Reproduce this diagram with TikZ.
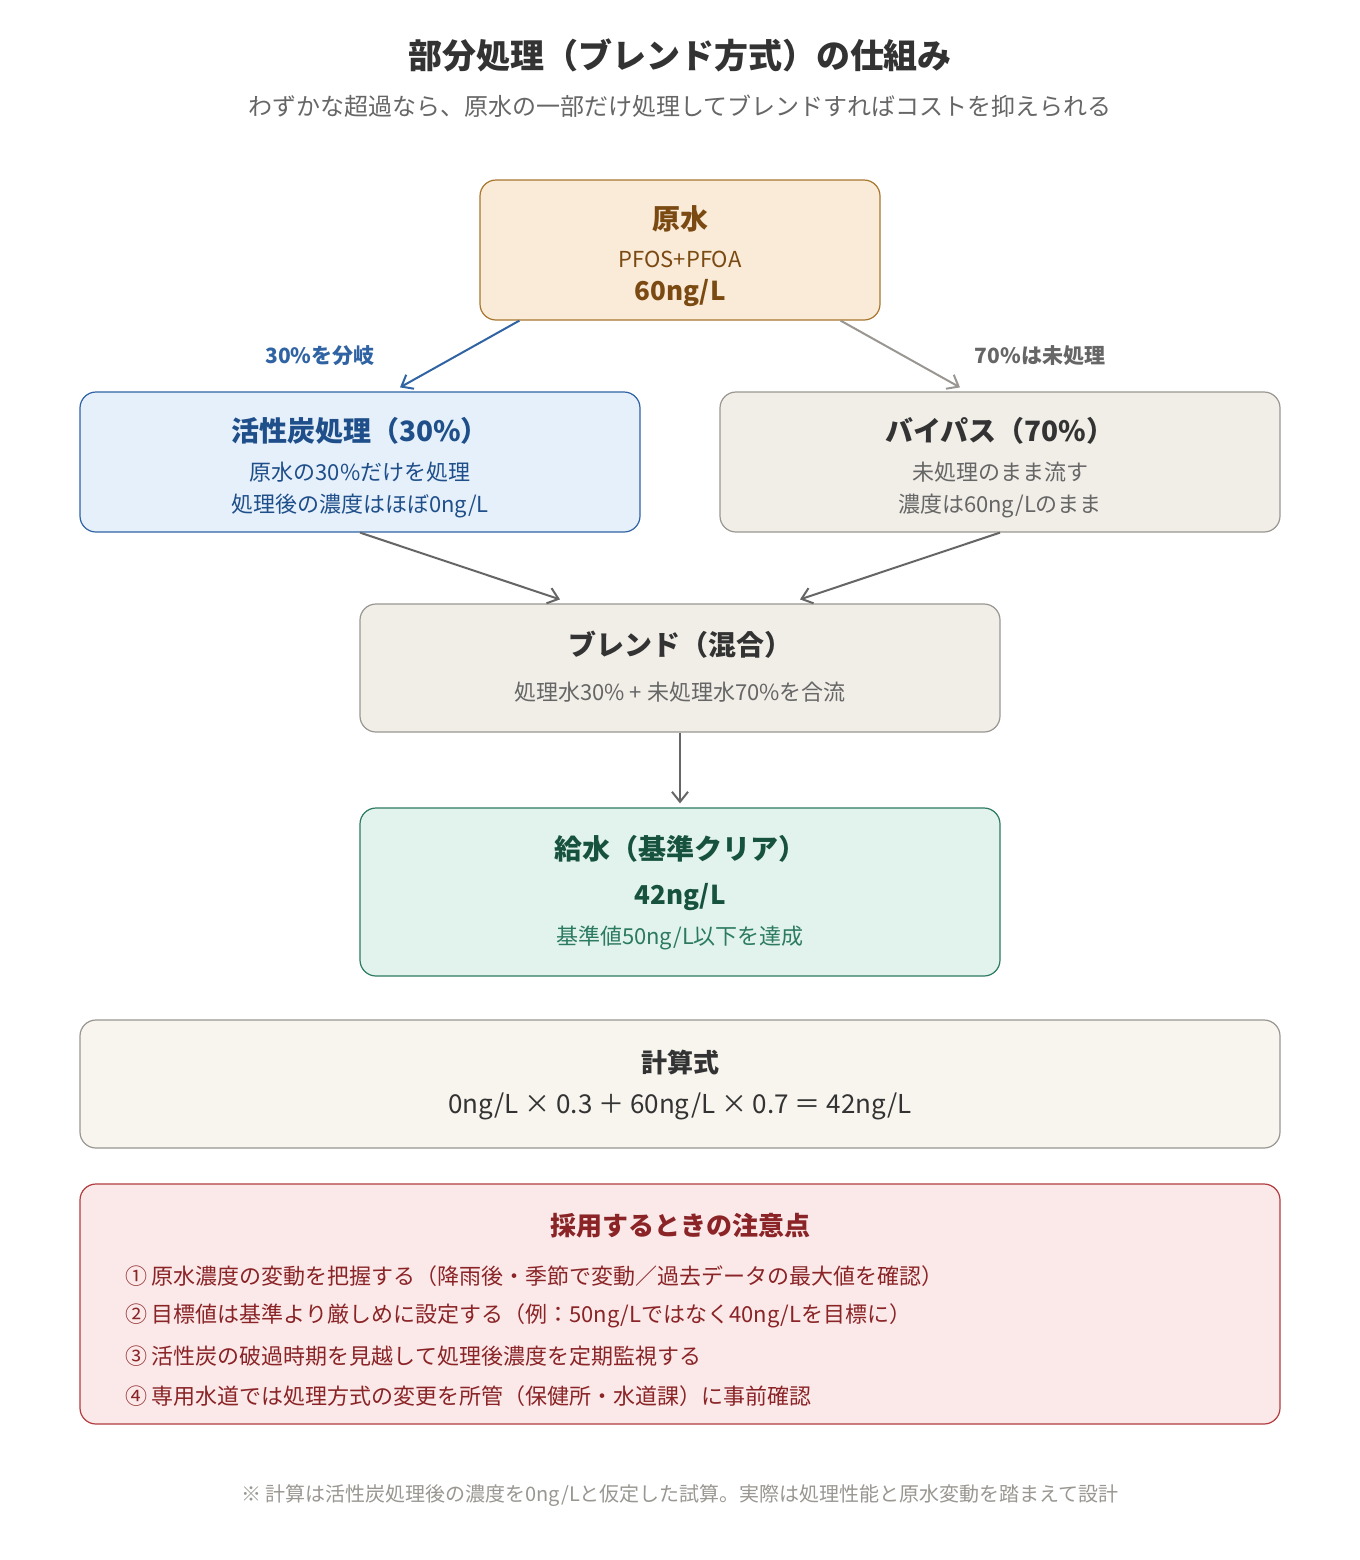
\documentclass[tikz,border=0pt]{standalone}
\usepackage{fontspec}
\setmainfont{Noto Sans CJK JP}
\usetikzlibrary{arrows.meta}
\definecolor{ink}{HTML}{333333}
\definecolor{sub}{HTML}{666666}
\definecolor{srcfill}{HTML}{FAEBD9}
\definecolor{srcline}{HTML}{A8762E}
\definecolor{srctext}{HTML}{7A4A12}
\definecolor{actfill}{HTML}{E6F0FA}
\definecolor{actline}{HTML}{2F63A3}
\definecolor{acttext}{HTML}{1F4F8A}
\definecolor{grfill}{HTML}{F1EEE8}
\definecolor{grline}{HTML}{9A9792}
\definecolor{okfill}{HTML}{E1F3EC}
\definecolor{okline}{HTML}{2C7A62}
\definecolor{oktext}{HTML}{17523F}
\definecolor{calcfill}{HTML}{F8F5EF}
\definecolor{warnfill}{HTML}{FBE9E9}
\definecolor{warnline}{HTML}{B23C40}
\definecolor{warntext}{HTML}{8A2427}
\tikzset{
  box/.style={draw, rounded corners=8pt, line width=0.6pt, align=center, inner sep=0pt},
  flow/.style={-{Straight Barb[length=5pt,width=8pt]}, line width=1pt},
}
\begin{document}
\begin{tikzpicture}[x=0.5pt,y=-0.5pt]
\useasboundingbox[fill=white] (0,0) rectangle (1360,1560);
% 見出し
\node (title) at (680,55) {\fontsize{17}{20}\selectfont\bfseries\color{ink}部分処理（ブレンド方式）の仕組み};
\node (subt) at (680,106) {\fontsize{12}{14}\selectfont\color{sub}わずかな超過なら、原水の一部だけ処理してブレンドすればコストを抑えられる};
% 箱
\node[box, fill=srcfill, draw=srcline, minimum width=200pt, minimum height=70pt] (src) at (680,250) {};
\node[text=srctext, font=\fontsize{14}{16}\selectfont\bfseries] at (680,219) {原水};
\node[text=srctext, font=\fontsize{11}{13}\selectfont] at (680,259) {PFOS+PFOA};
\node[text=srctext, font=\fontsize{13}{15}\selectfont\bfseries] at (680,293) {60ng/L};

\node[box, fill=actfill, draw=actline, minimum width=280pt, minimum height=70pt] (act) at (360,462) {};
\node[text=acttext, font=\fontsize{14}{16}\selectfont\bfseries] at (360,431) {活性炭処理（30\%）};
\node[text=acttext, font=\fontsize{11}{13}\selectfont] at (360,472) {原水の30\%だけを処理};
\node[text=acttext, font=\fontsize{11}{13}\selectfont] at (360,506) {処理後の濃度はほぼ0ng/L};

\node[box, fill=grfill, draw=grline, minimum width=280pt, minimum height=70pt] (byp) at (1000,462) {};
\node[text=ink, font=\fontsize{14}{16}\selectfont\bfseries] at (1000,431) {バイパス（70\%）};
\node[text=sub, font=\fontsize{11}{13}\selectfont] at (1000,472) {未処理のまま流す};
\node[text=sub, font=\fontsize{11}{13}\selectfont] at (1000,506) {濃度は60ng/Lのまま};

\node[box, fill=grfill, draw=grline, minimum width=320pt, minimum height=64pt] (blend) at (680,668) {};
\node[text=ink, font=\fontsize{14}{16}\selectfont\bfseries] at (680,645) {ブレンド（混合）};
\node[text=sub, font=\fontsize{11}{13}\selectfont] at (680,692) {処理水30\% + 未処理水70\%を合流};

\node[box, fill=okfill, draw=okline, minimum width=320pt, minimum height=84pt] (out) at (680,892) {};
\node[text=oktext, font=\fontsize{14}{16}\selectfont\bfseries] at (680,849) {給水（基準クリア）};
\node[text=oktext, font=\fontsize{13}{15}\selectfont\bfseries] at (680,897) {42ng/L};
\node[text=okline, font=\fontsize{11}{13}\selectfont] at (680,938) {基準値50ng/L以下を達成};

\node[box, fill=calcfill, draw=grline, minimum width=600pt, minimum height=64pt] (calc) at (680,1084) {};
\node[text=ink, font=\fontsize{13}{15}\selectfont\bfseries] at (680,1062) {計算式};
\node[text=ink, font=\fontsize{13}{15}\selectfont] at (680,1106) {0ng/L × 0.3 ＋ 60ng/L × 0.7 ＝ 42ng/L};

\node[box, fill=warnfill, draw=warnline, minimum width=600pt, minimum height=120pt] (warn) at (680,1304) {};
\node[text=warntext, font=\fontsize{13}{15}\selectfont\bfseries] at (680,1226) {採用するときの注意点};
\node[text=warntext, font=\fontsize{11}{13}\selectfont, anchor=west] at (118,1276) {① 原水濃度の変動を把握する（降雨後・季節で変動／過去データの最大値を確認）};
\node[text=warntext, font=\fontsize{11}{13}\selectfont, anchor=west] at (118,1316) {② 目標値は基準より厳しめに設定する（例：50ng/Lではなく40ng/Lを目標に）};
\node[text=warntext, font=\fontsize{11}{13}\selectfont, anchor=west] at (118,1356) {③ 活性炭の破過時期を見越して処理後濃度を定期監視する};
\node[text=warntext, font=\fontsize{11}{13}\selectfont, anchor=west] at (118,1396) {④ 専用水道では処理方式の変更を所管（保健所・水道課）に事前確認};

\node[text=grline, font=\fontsize{10}{12}\selectfont] (note) at (680,1496) {※ 計算は活性炭処理後の濃度を0ng/Lと仮定した試算。実際は処理性能と原水変動を踏まえて設計};
% 矢印
\draw[flow, draw=actline] ([xshift=20pt]src.south west) -- ([xshift=20pt,yshift=2pt]act.north);
\draw[flow, draw=grline] ([xshift=-20pt]src.south east) -- ([xshift=-20pt,yshift=2pt]byp.north);
\node[text=actline, font=\fontsize{10.5}{12}\selectfont\bfseries] at (320,356) {30\%を分岐};
\node[text=sub, font=\fontsize{10.5}{12}\selectfont\bfseries] at (1040,356) {70\%は未処理};
\draw[flow, draw=sub] (act.south) -- ([xshift=-60pt,yshift=2pt]blend.north);
\draw[flow, draw=sub] (byp.south) -- ([xshift=60pt,yshift=2pt]blend.north);
\draw[flow, draw=sub] (blend.south) -- ([yshift=2pt]out.north);
\end{tikzpicture}
\end{document}
